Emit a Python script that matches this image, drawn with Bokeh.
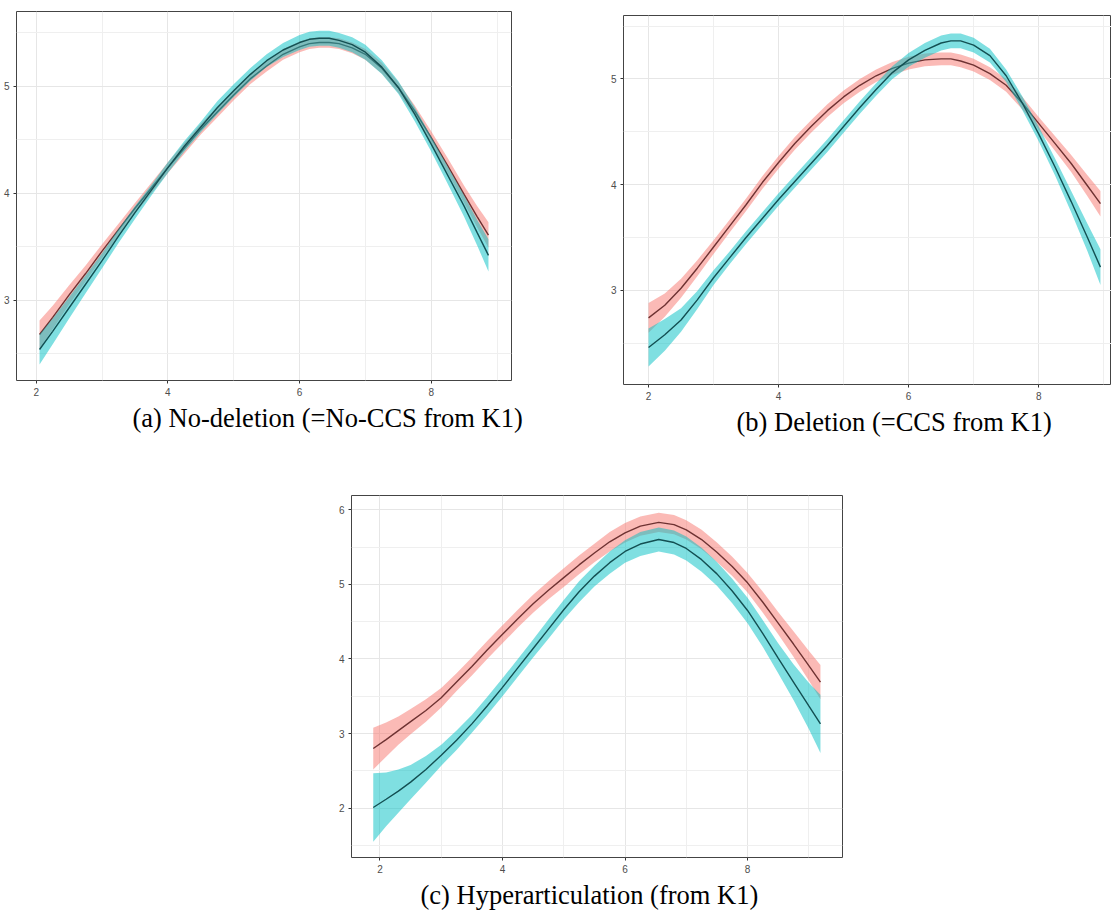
from bokeh.plotting import figure
from bokeh.layouts import row, column
from bokeh.models import Spacer, FixedTicker, Title, Range1d, ColumnDataSource
from bokeh.embed import file_html
from bokeh.resources import INLINE

# ---------------- data ----------------
# (a) No-deletion : fitted values and CI half-widths
x_a = [2.05, 2.25, 2.5, 2.75, 3.0, 3.25, 3.5, 3.75, 4.0, 4.25, 4.5, 4.75, 5.0, 5.25, 5.5, 5.75,
       6.0, 6.15, 6.3, 6.45, 6.6, 6.8, 7.0, 7.25, 7.5, 7.75, 8.0, 8.25, 8.5, 8.7, 8.87]
a_red = [2.68, 2.84, 3.05, 3.25, 3.46, 3.66, 3.86, 4.05, 4.24, 4.42, 4.60, 4.76, 4.92, 5.07, 5.19, 5.30,
         5.37, 5.40, 5.41, 5.41, 5.40, 5.36, 5.30, 5.17, 4.99, 4.77, 4.52, 4.26, 3.99, 3.78, 3.61]
a_red_se = [0.13, 0.11, 0.09, 0.075, 0.065, 0.055, 0.05, 0.05, 0.05, 0.05, 0.05, 0.05, 0.05, 0.05, 0.05, 0.05,
            0.05, 0.05, 0.05, 0.05, 0.05, 0.05, 0.05, 0.05, 0.05, 0.05, 0.06, 0.07, 0.08, 0.10, 0.12]
a_cyan = [2.54, 2.71, 2.93, 3.15, 3.37, 3.60, 3.82, 4.03, 4.24, 4.44, 4.62, 4.80, 4.96, 5.11, 5.24, 5.34,
          5.41, 5.44, 5.45, 5.45, 5.43, 5.39, 5.32, 5.18, 4.99, 4.74, 4.46, 4.17, 3.88, 3.63, 3.42]
a_cyan_se = [0.14, 0.12, 0.10, 0.085, 0.07, 0.065, 0.06, 0.05, 0.05, 0.05, 0.05, 0.06, 0.06, 0.06, 0.06, 0.065,
             0.07, 0.07, 0.07, 0.07, 0.07, 0.07, 0.07, 0.065, 0.06, 0.065, 0.07, 0.08, 0.10, 0.12, 0.15]

# (b) Deletion
x_b = [2.0, 2.25, 2.5, 2.75, 3.0, 3.25, 3.5, 3.75, 4.0, 4.25, 4.5, 4.75, 5.0, 5.25, 5.5, 5.75,
       6.0, 6.25, 6.5, 6.65, 6.8, 7.0, 7.25, 7.5, 7.75, 8.0, 8.25, 8.5, 8.75, 8.95]
b_red = [2.74, 2.86, 3.02, 3.21, 3.41, 3.61, 3.81, 4.02, 4.21, 4.39, 4.55, 4.70, 4.83, 4.94, 5.03, 5.10,
         5.15, 5.18, 5.19, 5.19, 5.17, 5.13, 5.05, 4.94, 4.77, 4.58, 4.39, 4.20, 3.99, 3.82]
b_red_se = [0.14, 0.11, 0.09, 0.075, 0.065, 0.06, 0.06, 0.06, 0.06, 0.06, 0.06, 0.06, 0.06, 0.06, 0.06, 0.06,
            0.06, 0.06, 0.06, 0.06, 0.06, 0.06, 0.06, 0.06, 0.06, 0.06, 0.07, 0.08, 0.10, 0.12]
b_cyan = [2.46, 2.58, 2.72, 2.91, 3.12, 3.31, 3.50, 3.68, 3.86, 4.03, 4.20, 4.37, 4.55, 4.73, 4.90, 5.06,
          5.18, 5.27, 5.34, 5.36, 5.36, 5.32, 5.22, 5.03, 4.77, 4.48, 4.17, 3.84, 3.50, 3.22]
b_cyan_se = [0.18, 0.15, 0.11, 0.085, 0.07, 0.06, 0.06, 0.06, 0.06, 0.06, 0.06, 0.06, 0.06, 0.06, 0.06, 0.06,
             0.065, 0.07, 0.07, 0.07, 0.07, 0.07, 0.065, 0.06, 0.065, 0.07, 0.08, 0.10, 0.13, 0.17]

# (c) Hyperarticulation
x_c = [1.89, 2.1, 2.3, 2.5, 2.75, 3.0, 3.25, 3.5, 3.75, 4.0, 4.25, 4.5, 4.75, 5.0, 5.25, 5.5,
       5.75, 6.0, 6.25, 6.55, 6.8, 7.0, 7.25, 7.5, 7.75, 8.0, 8.25, 8.5, 8.75, 9.0, 9.19]
c_red = [2.80, 2.92, 3.04, 3.16, 3.31, 3.48, 3.69, 3.90, 4.12, 4.33, 4.54, 4.74, 4.92, 5.09, 5.26, 5.42,
         5.57, 5.69, 5.78, 5.83, 5.80, 5.73, 5.60, 5.43, 5.24, 5.02, 4.76, 4.48, 4.20, 3.91, 3.69]
c_red_se = [0.28, 0.23, 0.19, 0.17, 0.15, 0.13, 0.12, 0.12, 0.12, 0.12, 0.12, 0.12, 0.12, 0.125, 0.125, 0.125,
            0.13, 0.13, 0.13, 0.13, 0.13, 0.13, 0.13, 0.13, 0.13, 0.13, 0.14, 0.15, 0.17, 0.20, 0.23]
c_cyan = [2.01, 2.12, 2.23, 2.35, 2.52, 2.71, 2.91, 3.13, 3.37, 3.62, 3.88, 4.14, 4.40, 4.66, 4.90, 5.11,
          5.29, 5.44, 5.54, 5.60, 5.56, 5.48, 5.33, 5.14, 4.91, 4.65, 4.34, 4.01, 3.69, 3.37, 3.13]
c_cyan_se = [0.46, 0.36, 0.29, 0.23, 0.18, 0.14, 0.13, 0.12, 0.12, 0.12, 0.12, 0.12, 0.13, 0.13, 0.14, 0.14,
             0.15, 0.15, 0.16, 0.16, 0.16, 0.16, 0.16, 0.16, 0.165, 0.17, 0.18, 0.20, 0.24, 0.31, 0.39]

x_major = [2, 4, 6, 8]
x_minor = [3, 5, 7, 9]

captions = ["(a) No-deletion (=No-CCS from K1)",
            "(b) Deletion (=CCS from K1)",
            "(c) Hyperarticulation (from K1)"]

RED_FILL = "#F8766D"
CYAN_FILL = "#00BFC4"
RED_LINE = "#6E3232"
CYAN_LINE = "#134F52"


def band_source(x, y, se):
    return ColumnDataSource(dict(x=x, y=y,
                                 lo=[v - s for v, s in zip(y, se)],
                                 hi=[v + s for v, s in zip(y, se)]))


def panel(x, red, red_se, cyan, cyan_se, xr, yr, y_major, y_minor,
          width, height, mb, caption, cap_offset):
    p = figure(width=width, height=height, x_range=Range1d(*xr), y_range=Range1d(*yr),
               output_backend="svg", toolbar_location=None, title=None,
               min_border_left=mb[0], min_border_right=mb[1],
               min_border_top=mb[2], min_border_bottom=mb[3])
    p.background_fill_color = "white"
    p.border_fill_color = "white"
    p.outline_line_color = "#444444"
    p.outline_line_width = 1

    p.xaxis.ticker = FixedTicker(ticks=x_major, minor_ticks=x_minor)
    p.yaxis.ticker = FixedTicker(ticks=y_major, minor_ticks=y_minor)
    for ax in (p.xaxis, p.yaxis):
        ax.axis_line_color = None
        ax.major_tick_line_color = "#333333"
        ax.major_tick_out = 3
        ax.major_tick_in = 0
        ax.minor_tick_line_color = None
        ax.major_label_text_font = "Liberation Sans"
        ax.major_label_text_font_size = "10px"
        ax.major_label_text_color = "#4D4D4D"
        ax.major_label_standoff = 3
    for g in (p.xgrid, p.ygrid):
        g.grid_line_color = "#E6E6E6"
        g.grid_line_width = 1
        g.minor_grid_line_color = "#EFEFEF"
        g.minor_grid_line_width = 1

    rs = band_source(x, red, red_se)
    cs = band_source(x, cyan, cyan_se)
    p.varea(x="x", y1="lo", y2="hi", source=rs, fill_color=RED_FILL, fill_alpha=0.5)
    p.line("x", "y", source=rs, line_color=RED_LINE, line_width=1.4)
    p.varea(x="x", y1="lo", y2="hi", source=cs, fill_color=CYAN_FILL, fill_alpha=0.5)
    p.line("x", "y", source=cs, line_color=CYAN_LINE, line_width=1.4)

    t = Title(text=caption, align="left", offset=cap_offset,
              text_font="Liberation Serif", text_font_size="26.5px",
              text_font_style="normal", text_color="black", standoff=4)
    p.add_layout(t, "below")
    return p


pa = panel(x_a, a_red, a_red_se, a_cyan, a_cyan_se,
           (1.70, 9.22), (2.25, 5.70), [3, 4, 5], [2.5, 3.5, 4.5, 5.5],
           560, 450, (11, 49, 11, 70), captions[0], 116)
pb = panel(x_b, b_red, b_red_se, b_cyan, b_cyan_se,
           (1.615, 9.12), (2.11, 5.60), [3, 4, 5], [2.5, 3.5, 4.5, 5.5],
           551, 446, (63, 0, 11, 66), captions[1], 113)
pc = panel(x_c, c_red, c_red_se, c_cyan, c_cyan_se,
           (1.535, 9.55), (1.34, 6.19), [2, 3, 4, 5, 6], [1.5, 2.5, 3.5, 4.5, 5.5],
           542, 464, (31, 20, 45, 57), captions[2], 69)

layout = column(row(pa, column(Spacer(width=551, height=4), pb)),
                row(Spacer(width=320, height=464), pc))

open("out.html", "w").write(file_html(layout, INLINE))
